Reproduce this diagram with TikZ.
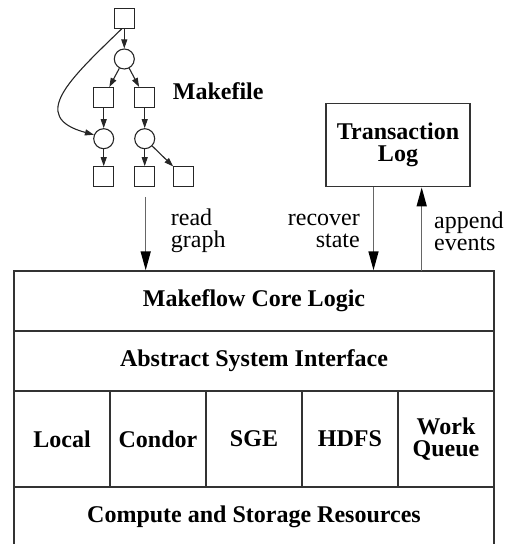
\documentclass[tikz,border=0pt]{standalone}
\usepackage{fontspec}
\setmainfont{Liberation Serif}
\usetikzlibrary{arrows.meta,calc}

\begin{document}
\begin{tikzpicture}[x=1pt,y=1pt,
  layer/.style={draw=black!80, line width=1.4pt, minimum width=480pt,
    minimum height=60pt, inner sep=0pt,
    font=\bfseries\fontsize{24}{22}\selectfont},
  backend/.style={layer, minimum width=96pt, minimum height=96pt, align=center},
  task/.style={draw=black!85, line width=1.1pt, minimum size=20pt, inner sep=0pt},
  file/.style={task, rectangle},
  rule/.style={task, circle},
  dep/.style={line width=1.1pt, black!85, -{Triangle[length=9pt,width=6pt]}},
  flow/.style={line width=1.5pt, black!60,
    -{Triangle[length=19pt,width=10pt,color=black]}},
  lbl/.style={font=\fontsize{24}{22}\selectfont, inner sep=0pt}
]
\useasboundingbox (0,0) rectangle (508,544);

% layered architecture
\node[layer] (core) at (254,243) {Makeflow Core Logic};
\node[layer] (asi)  at (254,183) {Abstract System Interface};
\node[backend] (local)  at (62,105)  {Local};
\node[backend] (condor) at (158,105) {Condor};
\node[backend] (sge)    at (254,105) {SGE};
\node[backend] (hdfs)   at (350,105) {HDFS};
\node[backend] (wq)     at (446,105) {Work\\Queue};
\node[layer] (res)  at (254,27) {Compute and Storage Resources};

% transaction log
\node[layer, minimum width=144pt, minimum height=83.4pt, align=center]
  (log) at (398,399) {Transaction\\Log};

% workflow graph
\node[file] (s1) at (124.3,525.7) {};
\node[rule] (c1) at (124.3,485) {};
\node[file] (s2) at (103.7,446.5) {};
\node[file] (s3) at (144.7,446.5) {};
\node[rule] (c2) at (103.7,405.3) {};
\node[rule] (c3) at (144.7,405.3) {};
\node[file] (s4) at (103.7,367.3) {};
\node[file] (s5) at (144.7,367.3) {};
\node[file] (s6) at (183.7,367.3) {};
\node[font=\bfseries\fontsize{24}{22}\selectfont, inner sep=0pt, anchor=base west]
  (mk) at (172.7,444.7) {Makefile};

\draw[dep] (s1) -- (c1);
\draw[dep] (c1) -- (s2);
\draw[dep] (c1) -- (s3);
\draw[dep] (s2) -- (c2);
\draw[dep] (s3) -- (c3);
\draw[dep] (c2) -- (s4);
\draw[dep] (c3) -- (s5);
\draw[dep] (c3) -- (s6);
\draw[dep] ([xshift=-2.6pt]s1.south) .. controls (70,465) and (28,427) .. (c2.158);

% data flow between components
\coordinate (rg) at (145.7,347);
\draw[flow] (rg) -- (rg |- core.north);
\coordinate (rs) at ([xshift=-24.5pt]log.south);
\draw[flow] (rs) -- (rs |- core.north);
\coordinate (ap) at (421.7,273);
\draw[flow] (ap) -- (ap |- log.south);

\node[lbl, align=left, anchor=west]  (rgl) at (170.7,313) {read\\graph};
\node[lbl, align=right, anchor=east] (rsl) at (360,313)   {recover\\state};
\node[lbl, align=left, anchor=west]  (ael) at (434,313)   {append\\events};
\end{tikzpicture}
\end{document}
